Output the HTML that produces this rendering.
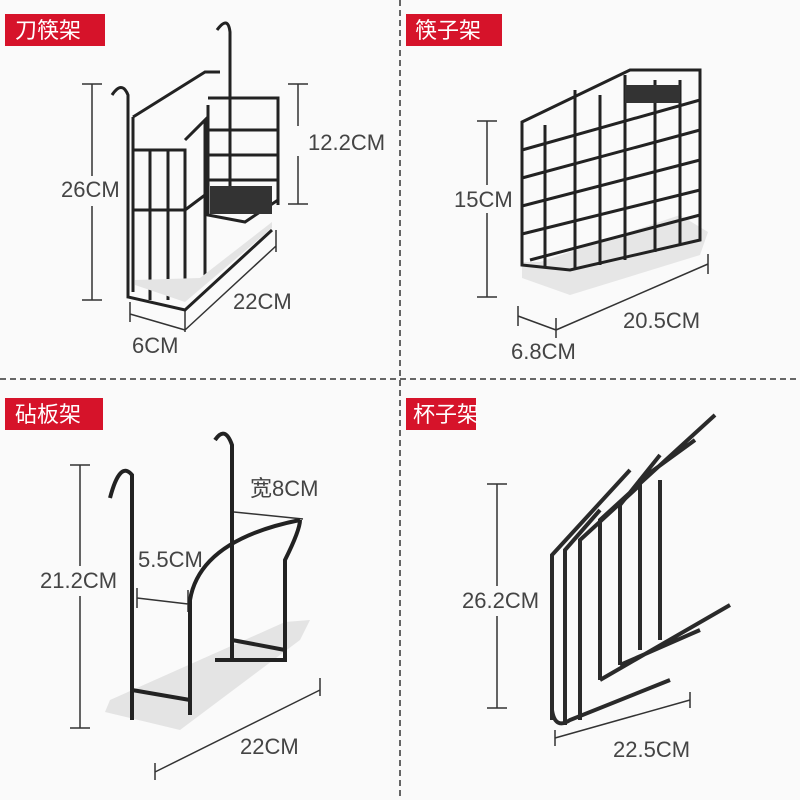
<!DOCTYPE html>
<html><head><meta charset="utf-8"><style>
body{margin:0;width:800px;height:800px;background:#fafafa;overflow:hidden;font-family:"Liberation Sans","Noto Sans CJK SC",sans-serif}
</style></head><body>
<svg width="800" height="800" xmlns="http://www.w3.org/2000/svg" style="position:absolute;left:0;top:0">
<rect width="800" height="800" fill="#fafafa"/>
<g stroke="#666" stroke-width="2" stroke-dasharray="6,4">
<line x1="400" y1="0" x2="400" y2="800"/><line x1="0" y1="379" x2="800" y2="379"/></g>
<g fill="#d6132a"><rect x="5" y="14" width="100" height="32"/><rect x="406" y="14" width="96" height="32"/><rect x="5" y="398" width="98" height="32"/><rect x="406" y="398" width="70" height="32"/></g>
<g fill="#fff" font-size="22" font-family="Noto Sans CJK SC,sans-serif">
<text x="15" y="38">刀筷架</text><text x="415" y="38">筷子架</text><text x="15" y="422">砧板架</text><text x="413" y="422">杯子架</text></g>
<g fill="#444" font-size="22" font-family="Liberation Sans,Noto Sans CJK SC,sans-serif">
<text x="61" y="197">26CM</text><text x="308" y="150">12.2CM</text><text x="233" y="309">22CM</text><text x="132" y="353">6CM</text>
<text x="454" y="207">15CM</text><text x="623" y="328">20.5CM</text><text x="511" y="359">6.8CM</text>
<text x="250" y="496">宽8CM</text><text x="138" y="567">5.5CM</text><text x="40" y="588">21.2CM</text><text x="240" y="754">22CM</text>
<text x="462" y="608">26.2CM</text><text x="613" y="757">22.5CM</text></g>
<g stroke="#333" stroke-width="1.5" fill="none">
<path d="M82 84H102M92 84V176M92 206V300M82 300H102"/><path d="M288 84H308M298 84V126M298 156V204M288 204H308"/>
<path d="M130 302V322M130 314L185 330M185 310V332M185 330L276 246M276 230V252"/>
<path d="M477 121H497M487 121V185M487 213V297M477 297H497"/><path d="M518 306V326M518 316L556 330M556 318V338M556 330L708 264M708 254V274"/>
<path d="M70 465H90M80 465V566M80 596V728M70 728H90"/><path d="M137 588V608M137 598L188 604M188 590V612"/><path d="M234 512L303 519"/>
<path d="M155 763V780M155 772L320 690M320 678V696"/>
<path d="M487 484H507M497 484V586M497 616V708M487 708H507"/><path d="M555 738L690 700M555 730V746M690 692V708"/></g>
<!-- TL rack -->
<g stroke="#222" stroke-width="3" fill="none">
<path d="M112 95Q122 80 128 95V297L185 310L272 230"/>
<path d="M133 117L205 72H220M133 117V292M133 150H185V300M133 210H185"/>
<path d="M150 150V300M168 150V300M185 140L205 120V280M185 210L205 195"/>
<path d="M217 30Q228 15 230 32V210"/><path d="M208 98H278V205M208 105V215L245 222L278 200M208 130H278M208 155H278M208 180H278"/>
</g>
<polygon points="135,285 185,302 272,228 272,222 200,278 135,280" fill="#e4e4e4"/>
<rect x="210" y="186" width="62" height="28" fill="#333"/>
<!-- TR rack -->
<polygon points="522,278 570,295 700,255 708,232 680,215 540,262 522,262" fill="#e6e6e6"/>
<g stroke="#222" stroke-width="3" fill="none">
<path d="M522 122L630 70H700V240L570 270L522 265Z"/>
<path d="M522 122V265M545 125V268M575 90V270M600 95V265M625 75V260M655 80V252M680 80V245"/>
<path d="M522 150L700 100M522 178L700 130M522 206L700 160M522 234L700 190M530 260L700 215"/></g>
<rect x="625" y="85" width="55" height="18" fill="#333"/>
<!-- BL rack -->
<polygon points="105,712 180,730 300,640 310,620 285,622 110,700" fill="#e4e4e4"/>
<g stroke="#222" stroke-width="4" fill="none">
<path d="M110 498Q120 460 132 475V720M215 440Q225 425 232 445V660"/>
<path d="M190 715V600Q200 540 300 520M215 660H285V560Q300 530 300 520M132 690L190 700M232 640L285 650"/></g>
<!-- BR rack -->
<g stroke="#2a2a2a" stroke-width="4" fill="none">
<path d="M552 720V555L630 470M565 725V550L600 510M580 720V540L640 485"/>
<path d="M600 680V520L715 415M620 665V505L660 455M640 650V480L695 440M660 640V480"/>
<path d="M552 710Q555 730 570 720L670 680M600 680L730 605M620 665L700 630"/></g>
</svg>
</body></html>
